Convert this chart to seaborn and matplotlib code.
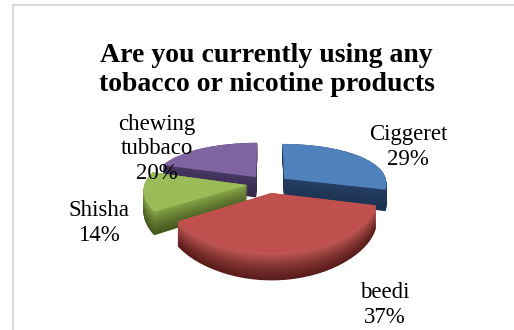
import numpy as np
import matplotlib
matplotlib.use("Agg")
import matplotlib.pyplot as plt
from matplotlib.colors import to_rgb
from matplotlib.lines import Line2D
from matplotlib.transforms import Transform
import seaborn as sns

# Survey answers and their shares (percent)
categories = ["Ciggeret", "beedi", "Shisha", "chewing\ntubbaco"]
shares = [29, 37, 14, 20]

top_colors = ["#4f81bd", "#c0504d", "#9bbb59", "#8064a2"]
side_colors = ["#1c3150", "#5a1d1c", "#48591f", "#33274a"]
rim_colors = ["#253f63", "#c45a56", "#86a548", "#4a3a66"]

title = "Are you currently using any\ntobacco or nicotine products"

sns.set_style("white")
plt.rcParams["font.family"] = ["Liberation Serif", "DejaVu Serif"]

W, H = 514, 330
fig = plt.figure(figsize=(W / 100, H / 100), dpi=100)
ax = fig.add_axes([0, 0, 1, 1])

# tilted pie seen in perspective: far side shrinks, near side grows
cx, cy = 268.0, 184.0      # screen position of the pie centre (px)
rx, ry = 103.0, 43.7       # pixels per pie unit, horizontal / vertical
kx, ky = 0.1, 0.2          # perspective strength across / along the view
thickness = 0.48           # height of the walls, in vertical pie units
explode = [0.2] * len(shares)


class Perspective(Transform):
    input_dims = output_dims = 2
    is_separable = False
    has_inverse = False

    def __init__(self, drop=0.0):
        super().__init__()
        self.drop = drop

    def transform_non_affine(self, values):
        v = np.asarray(values, dtype=float)
        x, y = v[:, 0], v[:, 1]
        sx = 1.0 / (1.0 + kx * y)
        sy = 1.0 / (1.0 + ky * y)
        return np.column_stack([x * sx, (y - self.drop) * sy])


def mix(a, b, t):
    a, b = np.array(to_rgb(a)), np.array(to_rgb(b))
    return tuple(a + (b - a) * t)


def draw_layer(colors, drop):
    wedges, _ = ax.pie(shares, explode=explode, colors=colors, startangle=90,
                       counterclock=False, radius=1.0,
                       wedgeprops=dict(linewidth=0))
    tr = Perspective(drop) + ax.transData
    for w in wedges:
        w.set_transform(tr)


# side walls: stack of darker layers from the bottom up
n_layers = 36
for i in range(n_layers):
    t = i / (n_layers - 1)
    cols = [mix(s, r, t ** 1.3) for s, r in zip(side_colors, rim_colors)]
    draw_layer(cols, thickness * (1 - t))

# top faces
draw_layer(top_colors, 0.0)

ax.set_aspect("auto")
ax.set_xlim((0 - cx) / rx, (W - cx) / rx)
ax.set_ylim((cy - H) / ry, cy / ry)
ax.axis("off")

# data labels: name and percent
total = sum(shares)
label_pos = [(408, 147), (385, 305), (98.5, 223), (157, 149)]
for name, val, (px, py) in zip(categories, shares, label_pos):
    pct = round(100 * val / total)
    fig.text(px / W, 1 - py / H, f"{name}\n{pct}%", ha="center", va="center",
             multialignment="center", fontsize=16.5, linespacing=1.2,
             color="black")

fig.text(266.5 / W, 1 - 70 / H, title, ha="center", va="center",
         fontsize=20, fontweight="bold", linespacing=1.25, color="black")

# chart frame
fig.add_artist(Line2D([13 / W, 13 / W], [0, 1 - 5 / H], transform=fig.transFigure,
                      color="#d9d9d9", linewidth=1.5))
fig.add_artist(Line2D([13 / W, 1], [1 - 5 / H, 1 - 5 / H], transform=fig.transFigure,
                      color="#d9d9d9", linewidth=1.5))

fig.savefig("out.png", dpi=100, facecolor="white")
